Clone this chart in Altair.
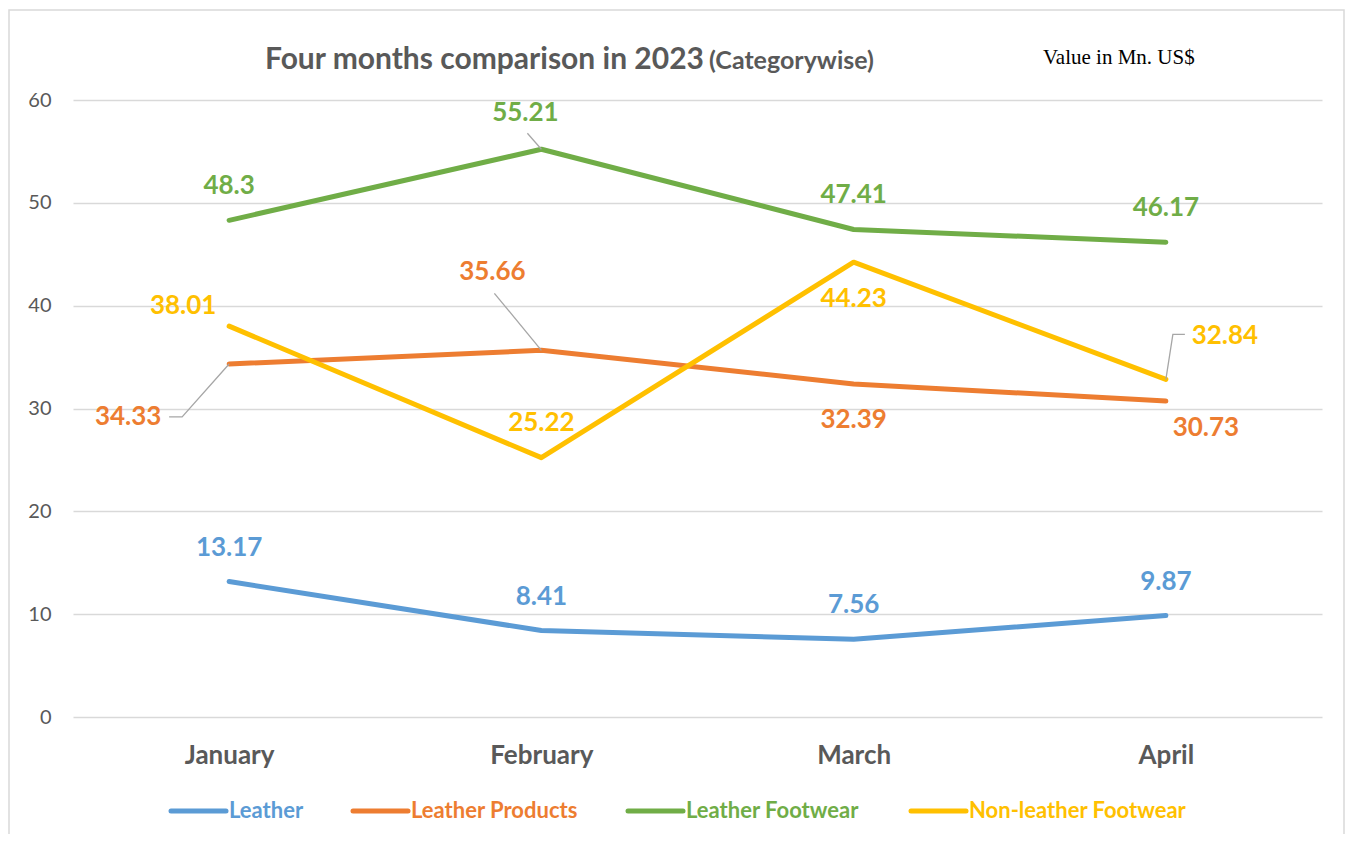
import altair as alt
import pandas as pd

# ---- data ----
months = ["January", "February", "March", "April"]
series = ["Leather", "Leather Products", "Leather Footwear", "Non-leather Footwear"]
leather = [13.17, 8.41, 7.56, 9.87]
leather_products = [34.33, 35.66, 32.39, 30.73]
leather_footwear = [48.3, 55.21, 47.41, 46.17]
non_leather_footwear = [38.01, 25.22, 44.23, 32.84]
values = [leather, leather_products, leather_footwear, non_leather_footwear]

# ---- styling ----
colors = ["#5B9BD5", "#ED7D31", "#70AD47", "#FFC000"]
W, H = 1249, 617
XDOM = [-0.5, 3.5]
YDOM = [0, 60]
PX_X = W / (XDOM[1] - XDOM[0])
PX_Y = H / (YDOM[1] - YDOM[0])
FONT = "Lato"

# label offsets in pixels (dx, dy) relative to each point
label_off = [
    [(0, -34), (0, -34), (0, -34), (0, -34)],
    [(-101, 53), (-49, -78), (0, 36), (40, 27)],
    [(0, -34), (-16, -36), (0, -34), (0, -34)],
    [(-46, -20), (0, -35), (0, 37), (59, -43)],
]
# leader lines: (series index, month index, list of pixel offsets)
leaders = [
    (1, 0, [(0, 0), (-47, 53), (-60, 53)]),
    (1, 1, [(0, 0), (-47, -57)]),
    (2, 1, [(0, 0), (-14, -16)]),
    (3, 3, [(0, 0), (7, -45), (19, -45)]),
]

rows, lab_rows = [], []
for s, name in enumerate(series):
    for i, m in enumerate(months):
        v = values[s][i]
        rows.append({"series": name, "xi": i, "yv": v})
        dx, dy = label_off[s][i]
        lab_rows.append({"series": name, "xi": i + dx / PX_X, "yv": v - dy / PX_Y,
                         "txt": f"{v:g}"})
df = pd.DataFrame(rows)
lab = pd.DataFrame(lab_rows)

lead_rows = []
for n, (s, i, pts) in enumerate(leaders):
    v = values[s][i]
    for j, (dx, dy) in enumerate(pts):
        lead_rows.append({"lid": n, "ord": j, "xi": i + dx / PX_X, "yv": v - dy / PX_Y})
lead = pd.DataFrame(lead_rows)

label_expr = "[" + ",".join(f"'{m}'" for m in months) + "][datum.value]"

xscale = alt.Scale(domain=XDOM, nice=False, zero=False)
yscale = alt.Scale(domain=YDOM, nice=False)

xaxis = alt.Axis(values=[0, 1, 2, 3], labelExpr=label_expr, grid=False, domain=False,
                 ticks=False, labelPadding=25, labelFontSize=26, labelFontWeight="bold",
                 labelColor="#595959", labelFont=FONT, title=None)
yaxis = alt.Axis(values=list(range(0, 61, 10)), grid=True, gridColor="#D9D9D9",
                 gridWidth=1.5, domain=False, ticks=False, labelPadding=22,
                 labelFontSize=20, labelColor="#595959", labelFont=FONT, title=None)

X = alt.X("xi:Q", scale=xscale, axis=xaxis)
Y = alt.Y("yv:Q", scale=yscale, axis=yaxis)

one = pd.DataFrame({"a": [0]})

layers = []
# border
layers.append(alt.Chart(one).mark_rect(fill=None, stroke="#D9D9D9", strokeWidth=1.5).encode(
    x=alt.value(-64), x2=alt.value(1271), y=alt.value(-90), y2=alt.value(760)))

# lines
for s, name in enumerate(series):
    d = df[df["series"] == name]
    layers.append(alt.Chart(d).mark_line(strokeWidth=5, strokeCap="round",
                                         strokeJoin="round", color=colors[s]).encode(x=X, y=Y))

# leader lines
layers.append(alt.Chart(lead).mark_line(color="#A6A6A6", strokeWidth=1.3).encode(
    x=X, y=Y, detail="lid:N", order="ord:Q"))

# data labels
for s, name in enumerate(series):
    d = lab[lab["series"] == name]
    layers.append(alt.Chart(d).mark_text(font=FONT, fontSize=26, fontWeight="bold",
                                         color=colors[s], baseline="middle").encode(
        x=X, y=Y, text="txt:N"))

# title
layers.append(alt.Chart(one).mark_text(text="Four months comparison in 2023", font=FONT,
                                        fontSize=30, fontWeight="bold", color="#595959",
                                        align="left", baseline="middle").encode(
    x=alt.value(192), y=alt.value(-40)))
layers.append(alt.Chart(one).mark_text(text="(Categorywise)", font=FONT,
                                        fontSize=25, fontWeight="bold", color="#595959",
                                        align="left", baseline="middle").encode(
    x=alt.value(636), y=alt.value(-39)))
layers.append(alt.Chart(one).mark_text(text="Value in Mn. US$", font="Liberation Serif",
                                        fontSize=21, color="#000000",
                                        align="left", baseline="middle").encode(
    x=alt.value(970), y=alt.value(-42)))

# legend
leg_line_x = [98, 280, 555, 838]
leg_len = 55
for s, name in enumerate(series):
    x0 = leg_line_x[s]
    layers.append(alt.Chart(one).mark_rule(strokeWidth=5, strokeCap="round",
                                            color=colors[s]).encode(
        x=alt.value(x0), x2=alt.value(x0 + leg_len), y=alt.value(711)))
    layers.append(alt.Chart(one).mark_text(text=name, font=FONT, fontSize=22,
                                            fontWeight="bold", color=colors[s],
                                            align="left", baseline="middle").encode(
        x=alt.value(x0 + leg_len + 3), y=alt.value(711)))

chart = alt.layer(*layers).properties(
    width=W, height=H,
    padding={"left": 65, "top": 92, "right": 23, "bottom": 117},
    autosize=alt.AutoSizeParams(type="none"),
    background="white",
).configure_view(stroke=None)

chart.save("out.html", embed_options={"renderer": "svg", "actions": False})
